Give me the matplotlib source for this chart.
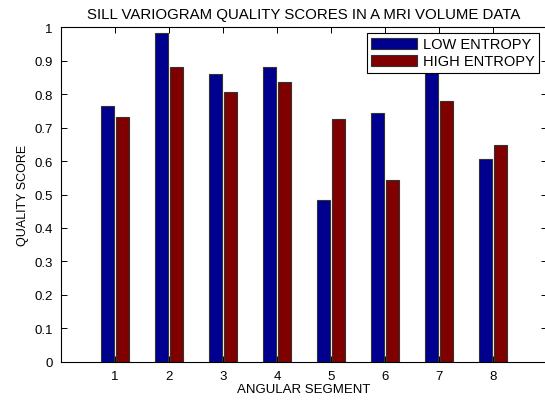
import matplotlib
matplotlib.use('Agg')
import matplotlib.pyplot as plt
import numpy as np

# quality scores per angular segment
segments = [1, 2, 3, 4, 5, 6, 7, 8]
low_entropy = [0.765, 0.982, 0.860, 0.881, 0.484, 0.745, 0.920, 0.607]
high_entropy = [0.732, 0.880, 0.807, 0.836, 0.727, 0.543, 0.779, 0.647]
series_names = ['LOW ENTROPY', 'HIGH ENTROPY']
yticks = np.arange(0, 1.01, 0.1)

plt.rcParams['font.family'] = ['Liberation Sans', 'DejaVu Sans']
plt.rcParams['font.size'] = 9

fig = plt.figure(figsize=(5.45, 4.02), dpi=100)
ax = fig.add_axes([61/545, (402-362.7)/402, 486/545, (362.7-28.3)/402])

x = np.array(segments, dtype=float)
w = 0.24
ax.bar(x - 0.145, low_entropy, w, color='#00008F', edgecolor='#333333',
       linewidth=0.8, label=series_names[0])
ax.bar(x + 0.14, high_entropy, w, color='#800000', edgecolor='#333333',
       linewidth=0.8, label=series_names[1])

ax.set_xlim(0, 9)
ax.set_ylim(0, 1)
ax.set_xticks(segments)
ax.set_yticks(yticks)
ax.set_yticklabels(['0' if v == 0 else ('1' if abs(v - 1) < 1e-9 else '%.1f' % v) for v in yticks])
ax.tick_params(direction='in', length=4, width=0.7, top=True, right=True, pad=6,
               labelsize=9.5)
for s in ax.spines.values():
    s.set_linewidth(0.8)

ax.set_title('SILL VARIOGRAM QUALITY SCORES IN A MRI VOLUME DATA', pad=7)
ax.set_xlabel('ANGULAR SEGMENT', labelpad=1, fontsize=9.5)
ax.set_ylabel('QUALITY SCORE', labelpad=4)

leg = ax.legend(loc='upper right', bbox_to_anchor=(539/545, (402-34)/402),
                bbox_transform=fig.transFigure, borderaxespad=0,
                fancybox=False, framealpha=1, edgecolor='black',
                handlelength=3.15, handleheight=0.82, handletextpad=0.4,
                labelspacing=0.2, borderpad=0.3, fontsize=10.5)
leg.get_frame().set_linewidth(0.8)

fig.savefig('out.png', dpi=100)
